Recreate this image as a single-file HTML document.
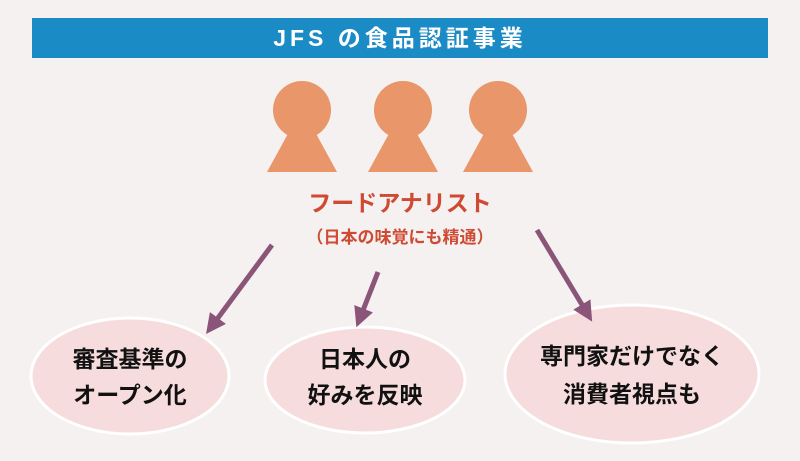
<!DOCTYPE html>
<html><head><meta charset="utf-8"><style>
html,body{margin:0;padding:0}
body{width:800px;height:461px;overflow:hidden;background:#f4f1f0;font-family:"Liberation Sans","Noto Sans CJK JP",sans-serif;position:relative}
.t{position:absolute;white-space:nowrap;text-align:center}
</style></head><body>
<div style="position:absolute;left:32px;top:18px;width:736px;height:40px;background:#1b8bc6"></div>
<div class="t" style="left:32px;width:736px;top:22px;font-size:23px;line-height:32px;color:#fff;letter-spacing:4px;font-weight:bold">JFS の食品認証事業</div>
<svg width="800" height="461" style="position:absolute;left:0;top:0">
<defs>
<g id="p"><circle cx="0" cy="0" r="29" fill="#e8966a"/><polygon points="-12,20 12,20 35,62 -35,62" fill="#e8966a"/></g>
<marker id="a" markerWidth="4" markerHeight="4" refX="2" refY="2" orient="auto"><path d="M0,0 L4,2 L0,4 z" fill="#8a5578"/></marker>
</defs>
<use href="#p" x="302" y="110"/><use href="#p" x="403" y="110"/><use href="#p" x="498" y="110"/>
<g fill="#f6dcdc" stroke="#fff" stroke-width="3">
<ellipse cx="130" cy="376" rx="99" ry="58"/>
<ellipse cx="365" cy="380" rx="100" ry="53"/>
<ellipse cx="632" cy="374" rx="127" ry="69"/>
</g>
<g stroke="#8a5578" stroke-width="5" fill="none">
<line x1="272" y1="245" x2="212" y2="326" marker-end="url(#a)"/>
<line x1="378" y1="272" x2="360" y2="318" marker-end="url(#a)"/>
<line x1="537" y1="230" x2="587" y2="313" marker-end="url(#a)"/>
</g>
</svg>
<div class="t" style="left:200px;width:400px;top:184px;font-size:23px;color:#cf4a33;font-weight:bold">フードアナリスト</div>
<div class="t" style="left:200px;width:400px;top:223px;font-size:17px;color:#cf4a33;font-weight:bold">（日本の味覚にも精通）</div>
<div class="t" style="left:30px;width:200px;top:341px;font-size:23px;line-height:36px;color:#111;font-weight:bold">審査基準の<br>オープン化</div>
<div class="t" style="left:265px;width:200px;top:341px;font-size:23px;line-height:36px;color:#111;font-weight:bold">日本人の<br>好みを反映</div>
<div class="t" style="left:505px;width:254px;top:337px;font-size:23px;line-height:38px;color:#111;font-weight:bold">専門家だけでなく<br>消費者視点も</div>
</body></html>
